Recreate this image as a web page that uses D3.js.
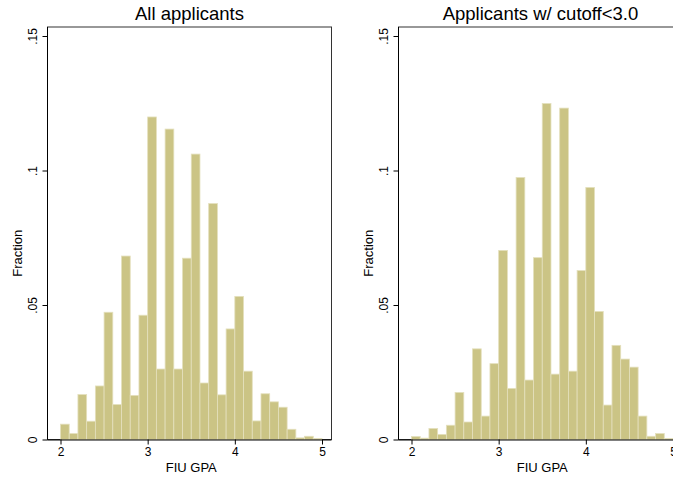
<html>
<head>
<script src="https://cdn.jsdelivr.net/npm/d3@7"></script>
<style>
  body { margin: 0; background: #fff; }
  text { font-family: "Liberation Sans", Arial, sans-serif; fill: #000; }
</style>
</head>
<body>
<svg id="container" width="673" height="479"></svg>
<script>
// bins of width 0.1 from 2.0 to 5.0
let binStarts = d3.range(30).map(i => +(2 + i * 0.1).toFixed(1))
let allApplicants = [0.0057, 0.0022, 0.0167, 0.0068, 0.0199, 0.0473, 0.0130, 0.0682, 0.0164, 0.0462,
    0.1199, 0.0262, 0.1154, 0.0262, 0.0674, 0.1061, 0.0210, 0.0877, 0.0166, 0.0411,
    0.0532, 0.0254, 0.0069, 0.0170, 0.0140, 0.0120, 0.0038, 0.0006, 0.0012, 0.0004]
let cutoffApplicants = [0.0011, 0.0005, 0.0041, 0.0019, 0.0053, 0.0175, 0.0065, 0.0337, 0.0087, 0.0282,
    0.0703, 0.0190, 0.0974, 0.0221, 0.0676, 0.1249, 0.0243, 0.1232, 0.0254, 0.0628,
    0.0937, 0.0476, 0.0128, 0.0350, 0.0299, 0.0269, 0.0087, 0.0012, 0.0022, 0.0004]
let xTicks = [2, 3, 4, 5]
let yTicks = [0, 0.05, 0.1, 0.15]
let yTickLabels = ["0", ".05", ".1", ".15"]

let svg = d3.select("#container")

function drawPanel(left, title, values) {
    let g = svg.append("g")
    let top = 27, bottom = 439.5, right = left + 284
    let x = d3.scaleLinear().domain([2, 5]).range([left + 13, left + 274.5])
    let y = d3.scaleLinear().domain([0, 0.15]).range([bottom, 36])

    // plot region frame
    g.append("rect")
        .attr("x", left).attr("y", top)
        .attr("width", right - left).attr("height", bottom - top)
        .attr("fill", "none").attr("stroke", "#333").attr("stroke-width", 1)

    g.selectAll("rect.bar")
        .data(values)
        .enter()
        .append("rect")
        .attr("class", "bar")
        .attr("x", (d, i) => x(binStarts[i]))
        .attr("width", (d, i) => x(binStarts[i] + 0.1) - x(binStarts[i]))
        .attr("y", d => y(d))
        .attr("height", d => y(0) - y(d))
        .style("fill", "#cbc485")
        .style("stroke", "#e4e0bd")
        .style("stroke-width", 0.8)

    let xAxis = d3.axisBottom(x).tickValues(xTicks).tickSize(5).tickPadding(3).tickFormat(d3.format("d"))
    let xg = g.append("g").attr("transform", `translate(0,${bottom})`).call(xAxis)
    xg.select(".domain").attr("d", `M${left},0.5H${right}`).attr("stroke", "#000")
    xg.selectAll("text").style("font-size", "12px").attr("font-family", null)

    let yAxis = d3.axisLeft(y).tickValues(yTicks).tickSize(5).tickFormat((d, i) => yTickLabels[i])
    let yg = g.append("g").attr("transform", `translate(${left},0)`).call(yAxis)
    yg.select(".domain").attr("d", `M0,${top}V${bottom}`).attr("stroke", "#000")
    yg.selectAll("text")
        .style("font-size", "12px").attr("font-family", null)
        .attr("x", null).attr("dy", null)
        .attr("text-anchor", "middle")
        .attr("transform", "translate(-11,0) rotate(-90)")

    g.append("text")
        .text("FIU GPA")
        .attr("x", (x(2) + x(5)) / 2)
        .attr("y", 471.5)
        .attr("text-anchor", "middle")
        .style("font-size", "13px")

    g.append("text")
        .text("Fraction")
        .attr("text-anchor", "middle")
        .attr("transform", `translate(${left - 26},${(top + bottom) / 2 + 20}) rotate(-90)`)
        .style("font-size", "13px")

    g.append("text")
        .text(title)
        .attr("x", (left + right) / 2)
        .attr("y", 19.5)
        .attr("text-anchor", "middle")
        .style("font-size", "18.5px")
}

drawPanel(47.5, "All applicants", allApplicants)
drawPanel(398.5, "Applicants w/ cutoff<3.0", cutoffApplicants)
</script>
</body>
</html>
